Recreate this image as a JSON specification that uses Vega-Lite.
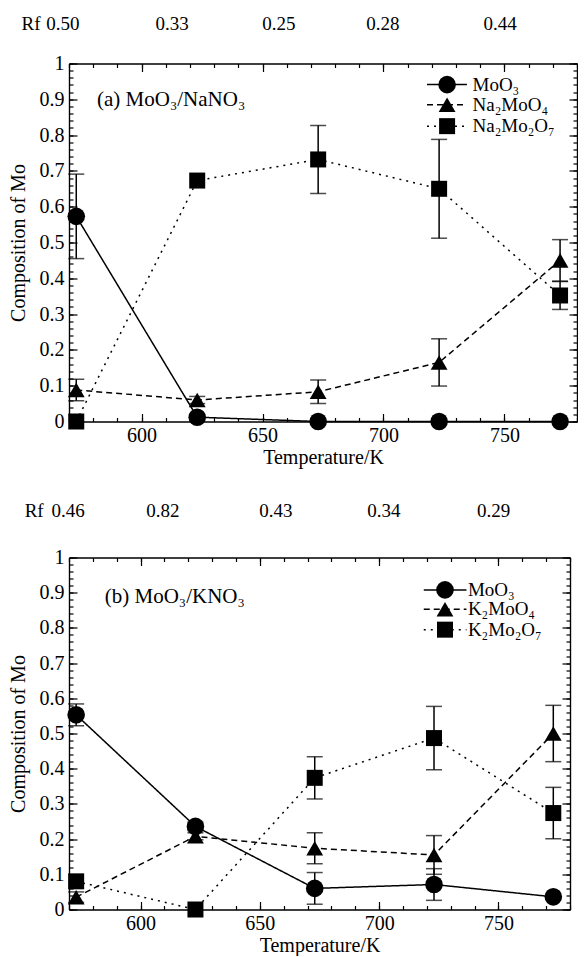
{
  "$schema": "https://vega.github.io/schema/vega-lite/v6.json",
  "background": "white",
  "padding": {"left": 8, "top": 14.5, "right": 0, "bottom": 0},
  "spacing": 34,
  "datasets": {
    "a": [
      {"T": 573, "s": "oxide", "v": 0.573, "e": 0.118},
      {"T": 623, "s": "oxide", "v": 0.012, "e": 0},
      {"T": 673, "s": "oxide", "v": 0.0, "e": 0},
      {"T": 723, "s": "oxide", "v": 0.0, "e": 0},
      {"T": 773, "s": "oxide", "v": 0.0, "e": 0},
      {"T": 573, "s": "mono", "v": 0.088, "e": 0.03},
      {"T": 623, "s": "mono", "v": 0.06, "e": 0.01},
      {"T": 673, "s": "mono", "v": 0.083, "e": 0.033},
      {"T": 723, "s": "mono", "v": 0.165, "e": 0.066},
      {"T": 773, "s": "mono", "v": 0.45, "e": 0.058},
      {"T": 573, "s": "di", "v": 0.0, "e": 0},
      {"T": 623, "s": "di", "v": 0.673, "e": 0},
      {"T": 673, "s": "di", "v": 0.732, "e": 0.095},
      {"T": 723, "s": "di", "v": 0.65, "e": 0.138},
      {"T": 773, "s": "di", "v": 0.352, "e": 0.039}
    ],
    "b": [
      {"T": 573, "s": "oxide", "v": 0.553, "e": 0.031},
      {"T": 623, "s": "oxide", "v": 0.236, "e": 0.012},
      {"T": 673, "s": "oxide", "v": 0.06, "e": 0.045},
      {"T": 723, "s": "oxide", "v": 0.071, "e": 0.045},
      {"T": 773, "s": "oxide", "v": 0.036, "e": 0},
      {"T": 573, "s": "mono", "v": 0.035, "e": 0.015},
      {"T": 623, "s": "mono", "v": 0.208, "e": 0.01},
      {"T": 673, "s": "mono", "v": 0.174, "e": 0.044},
      {"T": 723, "s": "mono", "v": 0.155, "e": 0.055},
      {"T": 773, "s": "mono", "v": 0.5, "e": 0.08},
      {"T": 573, "s": "di", "v": 0.08, "e": 0},
      {"T": 623, "s": "di", "v": 0.0, "e": 0},
      {"T": 673, "s": "di", "v": 0.374, "e": 0.06},
      {"T": 723, "s": "di", "v": 0.487, "e": 0.09},
      {"T": 773, "s": "di", "v": 0.274, "e": 0.073}
    ],
    "legA": [
      {"s": "oxide", "x1": 718, "x2": 734.5, "xm": 726.3, "xt": 736.8, "y": 0.941, "label": "MoO₃"},
      {"s": "mono", "x1": 718, "x2": 734.5, "xm": 726.3, "xt": 736.8, "y": 0.885, "label": "Na₂MoO₄"},
      {"s": "di", "x1": 718, "x2": 734.5, "xm": 726.3, "xt": 736.8, "y": 0.825, "label": "Na₂Mo₂O₇"}
    ],
    "legB": [
      {"s": "oxide", "x1": 718.7, "x2": 736.6, "xm": 727.6, "xt": 737.2, "y": 0.908, "label": "MoO₃"},
      {"s": "mono", "x1": 718.7, "x2": 736.6, "xm": 727.6, "xt": 737.2, "y": 0.853, "label": "K₂MoO₄"},
      {"s": "di", "x1": 718.7, "x2": 736.6, "xm": 727.6, "xt": 737.2, "y": 0.795, "label": "K₂Mo₂O₇"}
    ],
    "rfA": [
      {"x": 554.3, "y": 1.109, "t": "Rf"},
      {"x": 567.5, "y": 1.109, "t": "0.50"},
      {"x": 612.6, "y": 1.109, "t": "0.33"},
      {"x": 656.8, "y": 1.109, "t": "0.25"},
      {"x": 699.8, "y": 1.109, "t": "0.28"},
      {"x": 748.2, "y": 1.109, "t": "0.44"}
    ],
    "rfB": [
      {"x": 555.4, "y": 1.133, "t": "Rf"},
      {"x": 569.6, "y": 1.133, "t": "0.46"},
      {"x": 609.4, "y": 1.133, "t": "0.82"},
      {"x": 656.7, "y": 1.133, "t": "0.43"},
      {"x": 702.0, "y": 1.133, "t": "0.34"},
      {"x": 748.0, "y": 1.133, "t": "0.29"}
    ],
    "ttlA": [{"x": 581.6, "y": 0.899, "t": "(a) MoO₃/NaNO₃"}],
    "ttlB": [{"x": 585.0, "y": 0.888, "t": "(b) MoO₃/KNO₃"}]
  },
  "vconcat": [
    {
      "width": 508,
      "height": 358,
      "resolve": {"axis": {"x": "independent", "y": "independent"}},
      "layer": [
        {
          "data": {"name": "a"},
          "mark": {"type": "line", "color": "black", "strokeWidth": 1.5},
          "encoding": {
            "x": {"field": "T", "type": "quantitative", "scale": {"domain": [570, 780], "nice": false, "zero": false},
              "axis": {"orient": "bottom", "values": [600, 650, 700, 750], "format": "d", "tickSize": -8, "labelPadding": 12, "title": "Temperature/K", "titlePadding": 2}},
            "y": {"field": "v", "type": "quantitative", "scale": {"domain": [0, 1], "nice": false},
              "axis": {"orient": "left", "values": [0, 0.1, 0.2, 0.3, 0.4, 0.5, 0.6, 0.7, 0.8, 0.9, 1], "format": "~g", "tickSize": -8, "labelPadding": 13, "title": "Composition of Mo", "titlePadding": 11}},
            "strokeDash": {"field": "s", "type": "nominal", "scale": {"domain": ["oxide", "mono", "di"], "range": [[1, 0], [6, 4], [2, 5]]}, "legend": null}
          }
        },
        {
          "data": {"name": "a"},
          "transform": [{"filter": "datum.e > 0"}],
          "mark": {"type": "errorbar", "color": "black", "ticks": {"size": 16, "thickness": 1.5, "color": "black"}, "rule": {"strokeWidth": 1.5, "color": "black"}},
          "encoding": {
            "x": {"field": "T", "type": "quantitative", "axis": null},
            "y": {"field": "v", "type": "quantitative", "axis": null},
            "yError": {"field": "e"}
          }
        },
        {
          "data": {"name": "a"},
          "mark": {"type": "point", "filled": true, "color": "black", "opacity": 1},
          "encoding": {
            "x": {"field": "T", "type": "quantitative",
              "axis": {"orient": "top", "values": [600, 650, 700, 750], "labels": false, "tickSize": -8, "title": null}},
            "y": {"field": "v", "type": "quantitative",
              "axis": {"orient": "right", "values": [0, 0.1, 0.2, 0.3, 0.4, 0.5, 0.6, 0.7, 0.8, 0.9, 1], "labels": false, "tickSize": -8, "title": null}},
            "shape": {"field": "s", "type": "nominal", "scale": {"domain": ["oxide", "mono", "di"], "range": ["circle", "triangle-up", "square"]}, "legend": null},
            "size": {"field": "s", "type": "ordinal", "scale": {"domain": ["oxide", "mono", "di"], "range": [310, 256, 280]}, "legend": null}
          }
        },
        {
          "data": {"name": "legA"},
          "mark": {"type": "rule", "color": "black", "strokeWidth": 1.5},
          "encoding": {
            "x": {"field": "x1", "type": "quantitative",
              "axis": {"orient": "bottom", "values": [570, 580, 590, 600, 610, 620, 630, 640, 650, 660, 670, 680, 690, 700, 710, 720, 730, 740, 750, 760, 770, 780], "labels": false, "tickSize": -4, "title": null}},
            "x2": {"field": "x2"},
            "y": {"field": "y", "type": "quantitative",
              "axis": {"orient": "left", "values": [0, 0.02, 0.04, 0.06, 0.08, 0.1, 0.12, 0.14, 0.16, 0.18, 0.2, 0.22, 0.24, 0.26, 0.28, 0.3, 0.32, 0.34, 0.36, 0.38, 0.4, 0.42, 0.44, 0.46, 0.48, 0.5, 0.52, 0.54, 0.56, 0.58, 0.6, 0.62, 0.64, 0.66, 0.68, 0.7, 0.72, 0.74, 0.76, 0.78, 0.8, 0.82, 0.84, 0.86, 0.88, 0.9, 0.92, 0.94, 0.96, 0.98, 1], "labels": false, "tickSize": -4, "title": null}},
            "strokeDash": {"field": "s", "type": "nominal", "legend": null}
          }
        },
        {
          "data": {"name": "legA"},
          "mark": {"type": "point", "filled": true, "color": "black", "opacity": 1},
          "encoding": {
            "x": {"field": "xm", "type": "quantitative",
              "axis": {"orient": "top", "values": [570, 580, 590, 600, 610, 620, 630, 640, 650, 660, 670, 680, 690, 700, 710, 720, 730, 740, 750, 760, 770, 780], "labels": false, "tickSize": -4, "title": null}},
            "y": {"field": "y", "type": "quantitative",
              "axis": {"orient": "right", "values": [0, 0.02, 0.04, 0.06, 0.08, 0.1, 0.12, 0.14, 0.16, 0.18, 0.2, 0.22, 0.24, 0.26, 0.28, 0.3, 0.32, 0.34, 0.36, 0.38, 0.4, 0.42, 0.44, 0.46, 0.48, 0.5, 0.52, 0.54, 0.56, 0.58, 0.6, 0.62, 0.64, 0.66, 0.68, 0.7, 0.72, 0.74, 0.76, 0.78, 0.8, 0.82, 0.84, 0.86, 0.88, 0.9, 0.92, 0.94, 0.96, 0.98, 1], "labels": false, "tickSize": -4, "title": null}},
            "shape": {"field": "s", "type": "nominal", "legend": null},
            "size": {"field": "s", "type": "ordinal", "legend": null}
          }
        },
        {
          "data": {"name": "legA"},
          "mark": {"type": "text", "align": "left", "baseline": "middle", "fontSize": 19, "font": "Liberation Serif", "color": "black"},
          "encoding": {
            "x": {"field": "xt", "type": "quantitative", "axis": null},
            "y": {"field": "y", "type": "quantitative", "axis": null},
            "text": {"field": "label"}
          }
        },
        {
          "data": {"name": "rfA"},
          "mark": {"type": "text", "align": "center", "baseline": "middle", "fontSize": 19, "font": "Liberation Serif", "color": "black"},
          "encoding": {
            "x": {"field": "x", "type": "quantitative", "axis": null},
            "y": {"field": "y", "type": "quantitative", "axis": null},
            "text": {"field": "t"}
          }
        },
        {
          "data": {"name": "ttlA"},
          "mark": {"type": "text", "align": "left", "baseline": "middle", "fontSize": 21, "font": "Liberation Serif", "color": "black"},
          "encoding": {
            "x": {"field": "x", "type": "quantitative", "axis": null},
            "y": {"field": "y", "type": "quantitative", "axis": null},
            "text": {"field": "t"}
          }
        }
      ]
    },
    {
      "width": 501,
      "height": 352,
      "resolve": {"axis": {"x": "independent", "y": "independent"}},
      "layer": [
        {
          "data": {"name": "b"},
          "mark": {"type": "line", "color": "black", "strokeWidth": 1.5},
          "encoding": {
            "x": {"field": "T", "type": "quantitative", "scale": {"domain": [570, 780], "nice": false, "zero": false},
              "axis": {"orient": "bottom", "values": [600, 650, 700, 750], "format": "d", "tickSize": -8, "labelPadding": 12, "title": "Temperature/K", "titlePadding": 2}},
            "y": {"field": "v", "type": "quantitative", "scale": {"domain": [0, 1], "nice": false},
              "axis": {"orient": "left", "values": [0, 0.1, 0.2, 0.3, 0.4, 0.5, 0.6, 0.7, 0.8, 0.9, 1], "format": "~g", "tickSize": -8, "labelPadding": 13, "title": "Composition of Mo", "titlePadding": 11}},
            "strokeDash": {"field": "s", "type": "nominal", "scale": {"domain": ["oxide", "mono", "di"], "range": [[1, 0], [6, 4], [2, 5]]}, "legend": null}
          }
        },
        {
          "data": {"name": "b"},
          "transform": [{"filter": "datum.e > 0"}],
          "mark": {"type": "errorbar", "color": "black", "ticks": {"size": 16, "thickness": 1.5, "color": "black"}, "rule": {"strokeWidth": 1.5, "color": "black"}},
          "encoding": {
            "x": {"field": "T", "type": "quantitative", "axis": null},
            "y": {"field": "v", "type": "quantitative", "axis": null},
            "yError": {"field": "e"}
          }
        },
        {
          "data": {"name": "b"},
          "mark": {"type": "point", "filled": true, "color": "black", "opacity": 1},
          "encoding": {
            "x": {"field": "T", "type": "quantitative",
              "axis": {"orient": "top", "values": [600, 650, 700, 750], "labels": false, "tickSize": -8, "title": null}},
            "y": {"field": "v", "type": "quantitative",
              "axis": {"orient": "right", "values": [0, 0.1, 0.2, 0.3, 0.4, 0.5, 0.6, 0.7, 0.8, 0.9, 1], "labels": false, "tickSize": -8, "title": null}},
            "shape": {"field": "s", "type": "nominal", "scale": {"domain": ["oxide", "mono", "di"], "range": ["circle", "triangle-up", "square"]}, "legend": null},
            "size": {"field": "s", "type": "ordinal", "scale": {"domain": ["oxide", "mono", "di"], "range": [310, 256, 280]}, "legend": null}
          }
        },
        {
          "data": {"name": "legB"},
          "mark": {"type": "rule", "color": "black", "strokeWidth": 1.5},
          "encoding": {
            "x": {"field": "x1", "type": "quantitative",
              "axis": {"orient": "bottom", "values": [570, 580, 590, 600, 610, 620, 630, 640, 650, 660, 670, 680, 690, 700, 710, 720, 730, 740, 750, 760, 770, 780], "labels": false, "tickSize": -4, "title": null}},
            "x2": {"field": "x2"},
            "y": {"field": "y", "type": "quantitative",
              "axis": {"orient": "left", "values": [0, 0.02, 0.04, 0.06, 0.08, 0.1, 0.12, 0.14, 0.16, 0.18, 0.2, 0.22, 0.24, 0.26, 0.28, 0.3, 0.32, 0.34, 0.36, 0.38, 0.4, 0.42, 0.44, 0.46, 0.48, 0.5, 0.52, 0.54, 0.56, 0.58, 0.6, 0.62, 0.64, 0.66, 0.68, 0.7, 0.72, 0.74, 0.76, 0.78, 0.8, 0.82, 0.84, 0.86, 0.88, 0.9, 0.92, 0.94, 0.96, 0.98, 1], "labels": false, "tickSize": -4, "title": null}},
            "strokeDash": {"field": "s", "type": "nominal", "legend": null}
          }
        },
        {
          "data": {"name": "legB"},
          "mark": {"type": "point", "filled": true, "color": "black", "opacity": 1},
          "encoding": {
            "x": {"field": "xm", "type": "quantitative",
              "axis": {"orient": "top", "values": [570, 580, 590, 600, 610, 620, 630, 640, 650, 660, 670, 680, 690, 700, 710, 720, 730, 740, 750, 760, 770, 780], "labels": false, "tickSize": -4, "title": null}},
            "y": {"field": "y", "type": "quantitative",
              "axis": {"orient": "right", "values": [0, 0.02, 0.04, 0.06, 0.08, 0.1, 0.12, 0.14, 0.16, 0.18, 0.2, 0.22, 0.24, 0.26, 0.28, 0.3, 0.32, 0.34, 0.36, 0.38, 0.4, 0.42, 0.44, 0.46, 0.48, 0.5, 0.52, 0.54, 0.56, 0.58, 0.6, 0.62, 0.64, 0.66, 0.68, 0.7, 0.72, 0.74, 0.76, 0.78, 0.8, 0.82, 0.84, 0.86, 0.88, 0.9, 0.92, 0.94, 0.96, 0.98, 1], "labels": false, "tickSize": -4, "title": null}},
            "shape": {"field": "s", "type": "nominal", "legend": null},
            "size": {"field": "s", "type": "ordinal", "legend": null}
          }
        },
        {
          "data": {"name": "legB"},
          "mark": {"type": "text", "align": "left", "baseline": "middle", "fontSize": 19, "font": "Liberation Serif", "color": "black"},
          "encoding": {
            "x": {"field": "xt", "type": "quantitative", "axis": null},
            "y": {"field": "y", "type": "quantitative", "axis": null},
            "text": {"field": "label"}
          }
        },
        {
          "data": {"name": "rfB"},
          "mark": {"type": "text", "align": "center", "baseline": "middle", "fontSize": 19, "font": "Liberation Serif", "color": "black"},
          "encoding": {
            "x": {"field": "x", "type": "quantitative", "axis": null},
            "y": {"field": "y", "type": "quantitative", "axis": null},
            "text": {"field": "t"}
          }
        },
        {
          "data": {"name": "ttlB"},
          "mark": {"type": "text", "align": "left", "baseline": "middle", "fontSize": 21, "font": "Liberation Serif", "color": "black"},
          "encoding": {
            "x": {"field": "x", "type": "quantitative", "axis": null},
            "y": {"field": "y", "type": "quantitative", "axis": null},
            "text": {"field": "t"}
          }
        }
      ]
    }
  ],
  "config": {
    "view": {"stroke": null},
    "font": "Liberation Serif",
    "axis": {"domainColor": "black", "tickColor": "black", "labelColor": "black", "titleColor": "black", "labelFont": "Liberation Serif", "titleFont": "Liberation Serif", "labelFontSize": 20, "titleFontSize": 20, "titleFontWeight": "normal", "grid": false, "domainWidth": 1.2, "tickWidth": 1.2}
  }
}
